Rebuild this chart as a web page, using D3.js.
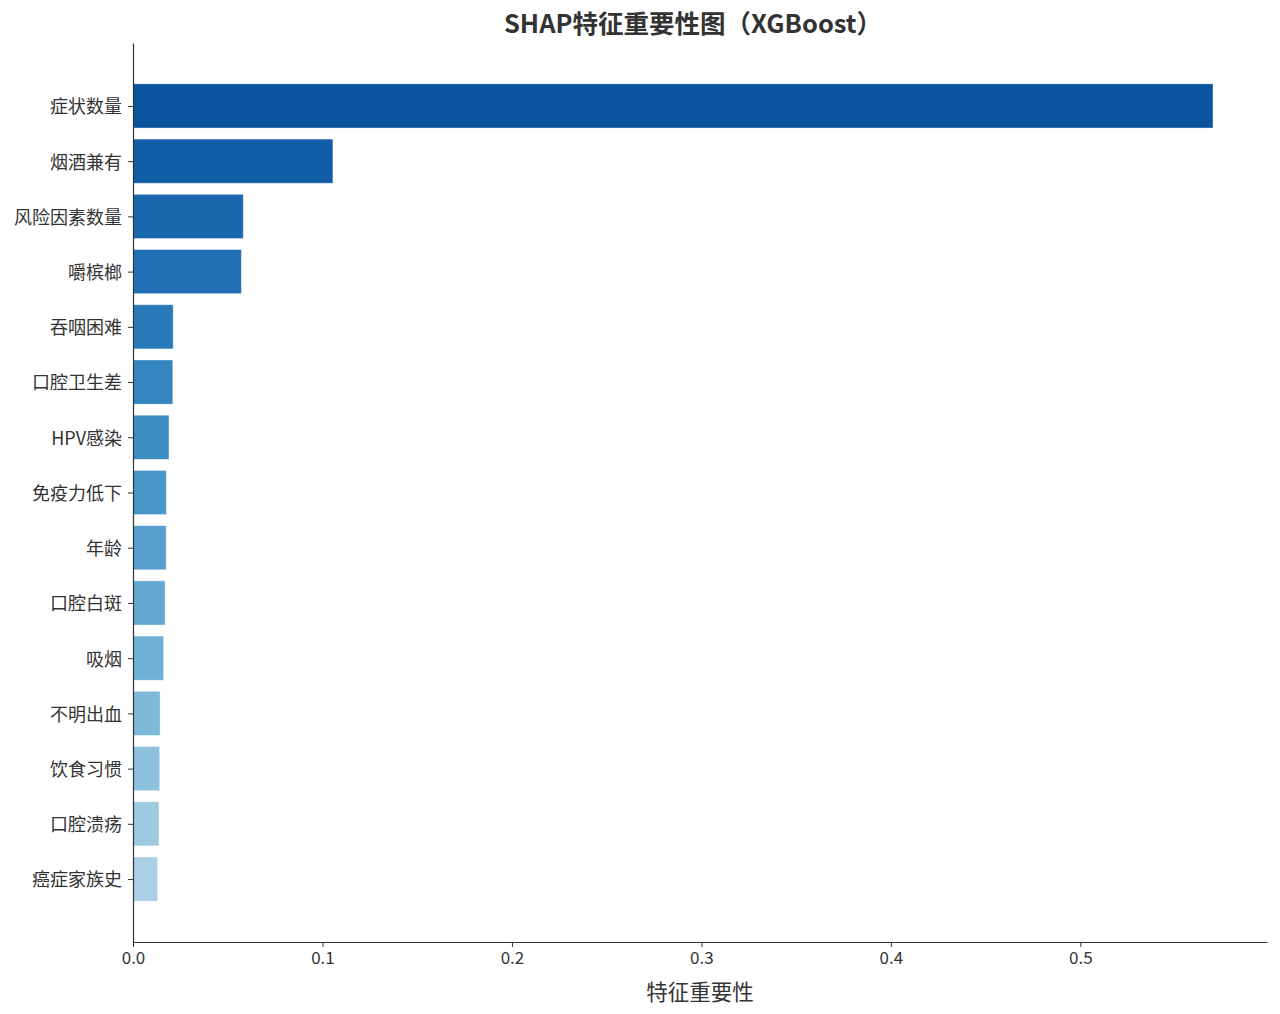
<!DOCTYPE html>
<html>
<head>
<meta charset="utf-8">
<script src="https://cdn.jsdelivr.net/npm/d3@7"></script>
<style>
  body { margin: 0; background: #fff; }
  text { font-family: "Microsoft YaHei", "Noto Sans CJK SC", "Noto Sans", sans-serif; fill: #333; }
</style>
</head>
<body>
<div id="chart"></div>
<script>
// feature names, top to bottom
const features = ["症状数量", "烟酒兼有", "风险因素数量", "嚼槟榔", "吞咽困难", "口腔卫生差",
  "HPV感染", "免疫力低下", "年龄", "口腔白斑", "吸烟", "不明出血", "饮食习惯", "口腔溃疡", "癌症家族史"];
// mean |SHAP| values
const importance = [0.570, 0.1055, 0.0582, 0.0572, 0.0212, 0.0210, 0.0190, 0.0176, 0.0175,
  0.0169, 0.0162, 0.0143, 0.0141, 0.0137, 0.0130];
const xTicks = [0.0, 0.1, 0.2, 0.3, 0.4, 0.5];

// set the dimensions and margins
const W = 1280, H = 1014;
const margin = {top: 43, right: 13, bottom: 72, left: 133},
      width = W - margin.left - margin.right,
      height = H - margin.top - margin.bottom;

const svg = d3.select("#chart").append("svg")
    .attr("width", W)
    .attr("height", H);
const g = svg.append("g")
    .attr("transform", "translate(" + margin.left + "," + margin.top + ")");

// matplotlib-like limits: 5% margin on x, bars of height 0.8 on y
const x = d3.scaleLinear()
    .domain([0, d3.max(importance) * 1.05])
    .range([0, width]);
const n = features.length;
const y = d3.scaleLinear()
    .domain([-0.4 - 0.74, n - 1 + 0.4 + 0.74])
    .range([0, height]);

// Blues colormap stops
const blues = d3.scaleLinear()
    .domain([0, 0.125, 0.25, 0.375, 0.5, 0.625, 0.75, 0.875, 1])
    .range(["#f7fbff", "#deebf7", "#c6dbef", "#9ecae1", "#6baed6", "#4292c6", "#2171b5", "#08519c", "#08306b"])
    .interpolate(d3.interpolateRgb);
const shade = d3.scaleLinear().domain([0, n - 1]).range([0.865, 0.34]);

// bars
g.selectAll(".bar")
    .data(importance)
  .enter().append("rect")
    .attr("class", "bar")
    .attr("x", x(0))
    .attr("y", (d, i) => y(i - 0.4))
    .attr("width", d => x(d) - x(0))
    .attr("height", y(0.8) - y(0))
    .style("fill", (d, i) => blues(shade(i)))
    .style("stroke", "#ffffff")
    .style("stroke-opacity", 0.5)
    .style("stroke-width", 0.8);

// x axis
const xAxis = g.append("g")
    .attr("transform", "translate(0," + height + ")")
    .call(d3.axisBottom(x).tickValues(xTicks).tickFormat(d3.format(".1f")).tickSize(5).tickSizeOuter(0).tickPadding(5));
xAxis.select(".domain").attr("stroke", "#333").attr("stroke-width", 1.2);
xAxis.selectAll(".tick line").attr("stroke", "#333");
xAxis.selectAll("text").style("font-size", "17px").style("fill", "#333");

// y axis
const yAxis = g.append("g")
    .call(d3.axisLeft(y).tickValues(d3.range(n)).tickFormat(i => features[i]).tickSize(5).tickSizeOuter(0).tickPadding(6));
yAxis.select(".domain").attr("stroke", "#333").attr("stroke-width", 1.2);
yAxis.selectAll(".tick line").attr("stroke", "#333");
yAxis.selectAll("text").style("font-size", "18px").style("fill", "#333").attr("dy", "0.38em");

// title
svg.append("text")
    .attr("x", margin.left + width / 2 - 7)
    .attr("y", 33)
    .attr("text-anchor", "middle")
    .style("font-size", "25.5px")
    .style("font-weight", "bold")
    .text("SHAP特征重要性图（XGBoost）");

// x label
svg.append("text")
    .attr("x", margin.left + width / 2)
    .attr("y", 1000)
    .attr("text-anchor", "middle")
    .style("font-size", "21.5px")
    .text("特征重要性");
</script>
</body>
</html>
